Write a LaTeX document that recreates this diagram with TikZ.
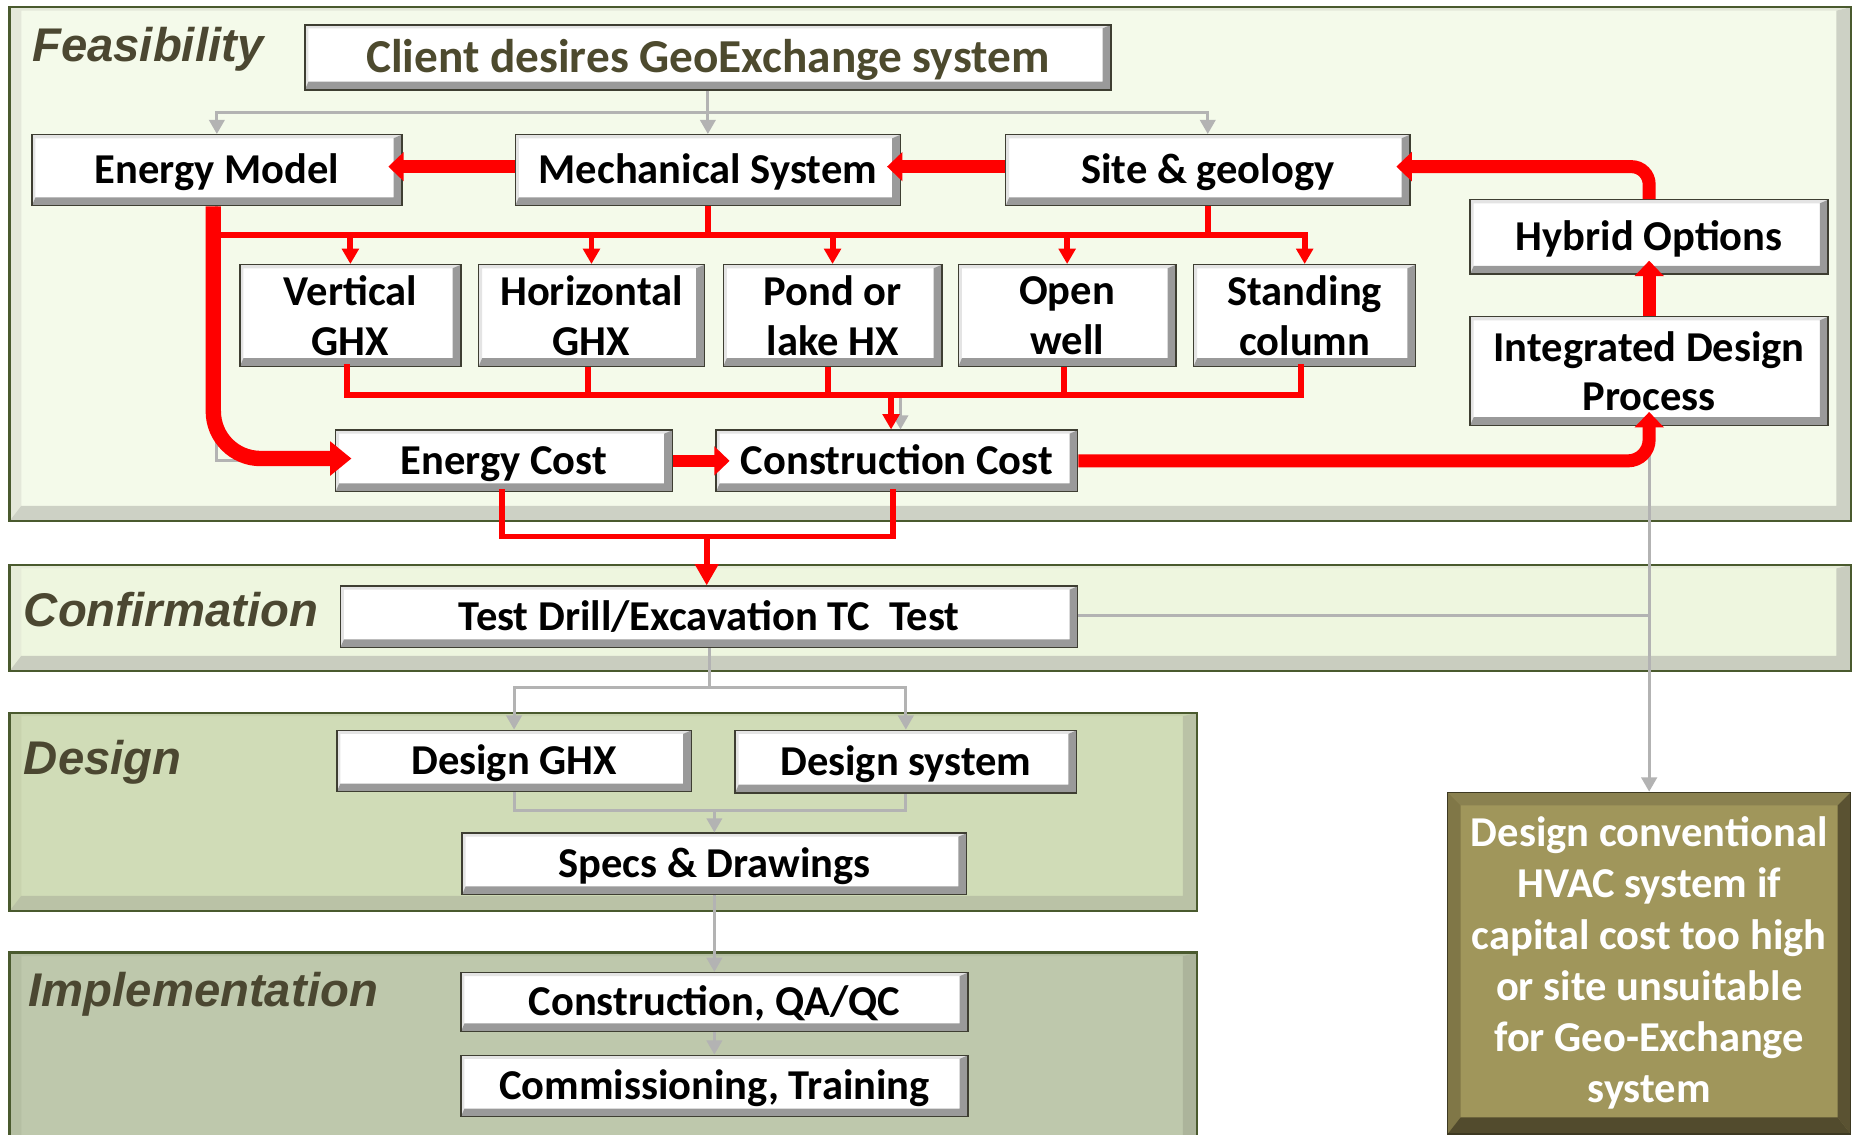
\documentclass[tikz,border=0pt]{standalone}
\usepackage{fontspec}
\setmainfont{Carlito}
\newfontfamily\phasefont{Liberation Sans}
\usetikzlibrary{arrows.meta}

\definecolor{connector}{HTML}{B3B3B3}
\definecolor{boxedge}{HTML}{3E3E32}
\definecolor{boxshade}{HTML}{9A9A9A}
\definecolor{boxlight}{HTML}{E4E4E4}
\definecolor{olivetext}{HTML}{4D4A2E}
\definecolor{phasetext}{HTML}{4B4731}
\definecolor{panelline}{HTML}{4A5A2E}
\definecolor{feasfill}{HTML}{F4FAEA}
\definecolor{feaslight}{HTML}{E4E8DA}
\definecolor{feasdark}{HTML}{CDD1C5}
\definecolor{conffill}{HTML}{EEF6DF}
\definecolor{conflight}{HTML}{E6ECD8}
\definecolor{confdark}{HTML}{C9CDBF}
\definecolor{desfill}{HTML}{D0DCB7}
\definecolor{deslight}{HTML}{C8D3AE}
\definecolor{desdark}{HTML}{BAC2A6}
\definecolor{implfill}{HTML}{BEC8AC}
\definecolor{impllight}{HTML}{B5BFA3}
\definecolor{impldark}{HTML}{ACB49B}
\definecolor{hvacfill}{HTML}{A0965B}
\definecolor{hvacedge}{HTML}{3D3922}
\definecolor{hvacleft}{HTML}{807747}
\definecolor{hvactop}{HTML}{8A8150}
\definecolor{hvacright}{HTML}{5A5232}
\definecolor{hvacbottom}{HTML}{524B2D}

\pgfdeclarelayer{background}
\pgfsetlayers{background,main}

\newcommand\boxtext{\bfseries\fontsize{36}{42}\selectfont}

% bevelled phase panel: x1,y1,x2,y2,fill,light bevel,dark bevel
\newcommand\phasepanel[7]{%
  \fill[#5] (#1,#2) rectangle (#3,#4);
  \fill[#6] (#1,#4) -- (#1,#2) -- (#3,#2) -- (#3-12,#2+3) -- (#1+10,#2+3) -- (#1+10,#4-13) -- cycle;
  \fill[#7] (#1,#4) -- (#3,#4) -- (#3,#2) -- (#3-12,#2+3) -- (#3-12,#4-13) -- (#1+10,#4-13) -- cycle;
  \draw[panelline, line width=1.8pt] (#1,#2) rectangle (#3,#4);
}

\tikzset{
  stagebox/.style={draw=boxedge, line width=1.2pt, fill=white, inner sep=0pt,
    align=center, text=black, font=\boxtext,
    path picture={
      \fill[boxlight] (path picture bounding box.south west)
        -- (path picture bounding box.north west)
        -- (path picture bounding box.north east)
        -- ([shift={(-7pt,-3pt)}]path picture bounding box.north east)
        -- ([shift={(3pt,-3pt)}]path picture bounding box.north west)
        -- ([shift={(3pt,7pt)}]path picture bounding box.south west) -- cycle;
      \fill[boxshade] (path picture bounding box.south west)
        -- (path picture bounding box.south east)
        -- (path picture bounding box.north east)
        -- ([shift={(-7pt,-3pt)}]path picture bounding box.north east)
        -- ([shift={(-7pt,7pt)}]path picture bounding box.south east)
        -- ([shift={(3pt,7pt)}]path picture bounding box.south west) -- cycle;
    }},
  oneline/.style={stagebox, text height=26pt, text depth=3pt},
  hvacbox/.style={draw=hvacedge, line width=1.2pt, fill=hvacfill, inner sep=0pt,
    align=center, text=white, font=\bfseries\fontsize{36}{43.4}\selectfont,
    path picture={
      \fill[hvacleft] (path picture bounding box.south west)
        -- (path picture bounding box.north west)
        -- ([shift={(11pt,-11pt)}]path picture bounding box.north west)
        -- ([shift={(11pt,14pt)}]path picture bounding box.south west) -- cycle;
      \fill[hvactop] (path picture bounding box.north west)
        -- (path picture bounding box.north east)
        -- ([shift={(-11pt,-11pt)}]path picture bounding box.north east)
        -- ([shift={(11pt,-11pt)}]path picture bounding box.north west) -- cycle;
      \fill[hvacright] (path picture bounding box.north east)
        -- (path picture bounding box.south east)
        -- ([shift={(-11pt,14pt)}]path picture bounding box.south east)
        -- ([shift={(-11pt,-11pt)}]path picture bounding box.north east) -- cycle;
      \fill[hvacbottom] (path picture bounding box.south west)
        -- (path picture bounding box.south east)
        -- ([shift={(-11pt,14pt)}]path picture bounding box.south east)
        -- ([shift={(11pt,14pt)}]path picture bounding box.south west) -- cycle;
    }},
  phaselabel/.style={anchor=base west, inner sep=0pt, text=phasetext,
    font=\phasefont\bfseries\itshape\fontsize{40}{40}\selectfont},
  greyline/.style={draw=connector, line width=2.5pt},
  greyarrow/.style={greyline, -{Triangle[width=13pt,length=12pt]}},
  redline/.style={draw=red, line width=5pt},
  redarrow/.style={redline, -{Triangle[width=14pt,length=13pt]}},
  redbig/.style={redline, -{Triangle[width=19pt,length=18pt]}},
  redthick/.style={draw=red, line width=11pt, -{Triangle[width=24pt,length=13pt]}, shorten >=-12pt},
  redthickest/.style={draw=red, line width=13pt, -{Triangle[width=28pt,length=18pt]}, shorten >=-14pt},
}

\begin{document}
\begin{tikzpicture}[x=1pt,y=-1pt]
\useasboundingbox (0,0) rectangle (1568,960);

% ---------- phase panels ----------
\begin{pgfonlayer}{background}
  \fill[white] (0,0) rectangle (1568,960);
  \phasepanel{8}{6}{1566}{441}{feasfill}{feaslight}{feasdark}
  \phasepanel{8}{478}{1566}{568}{conffill}{conflight}{confdark}
  \phasepanel{8}{603}{1013}{771}{desfill}{deslight}{desdark}
  \phasepanel{8}{806}{1013}{980}{implfill}{impllight}{impldark}
\end{pgfonlayer}

\node[phaselabel] (lfeas) at (27,52) {Feasibility};
\node[phaselabel] (lconf) at (20,530) {Confirmation};
\node[phaselabel] (ldes) at (20,655) {Design};
\node[phaselabel] (limpl) at (24,852) {Implementation};

% ---------- steps ----------
\node[oneline, minimum width=682pt, minimum height=55pt, text=olivetext,
      font=\bfseries\fontsize{40}{44}\selectfont, text height=28.8pt, text depth=3pt]
      (client) at (599,48.5) {Client desires GeoExchange system};
\node[oneline, minimum width=313pt, minimum height=60pt] (emodel) at (183.5,144) {Energy Model};
\node[oneline, minimum width=326pt, minimum height=60pt] (mech) at (599,144) {Mechanical System};
\node[oneline, minimum width=342pt, minimum height=60pt] (site) at (1022,144) {Site \& geology};
\node[oneline, minimum width=303pt, minimum height=63pt] (hybrid) at (1395.5,200.5) {Hybrid Options};
\node[stagebox, minimum width=303pt, minimum height=92pt] (idp) at (1395.5,314) {Integrated Design\\Process};

\node[stagebox, minimum width=187pt, minimum height=86pt] (vert) at (296.5,267) {Vertical\\GHX};
\node[stagebox, minimum width=191pt, minimum height=86pt] (horiz) at (500.5,267) {Horizontal\\GHX};
\node[stagebox, minimum width=185pt, minimum height=86pt] (pond) at (704.5,267) {Pond or\\lake HX};
\node[stagebox, minimum width=184pt, minimum height=86pt] (openw) at (903,267) {Open\\well};
\node[stagebox, minimum width=188pt, minimum height=86pt] (stand) at (1104,267) {Standing\\column};

\node[oneline, minimum width=285pt, minimum height=52pt] (ecost) at (426.5,390) {Energy Cost};
\node[oneline, minimum width=306pt, minimum height=52pt] (ccost) at (759,390) {Construction Cost};

\node[oneline, minimum width=624pt, minimum height=52pt] (test) at (600,522) {Test Drill/Excavation TC\ \ Test};

\node[oneline, minimum width=300pt, minimum height=52pt] (dghx) at (435,644) {Design GHX};
\node[oneline, minimum width=289pt, minimum height=53pt] (dsys) at (766.5,644.5) {Design system};
\node[oneline, minimum width=427pt, minimum height=52pt] (specs) at (604.5,731) {Specs \& Drawings};
\node[oneline, minimum width=429pt, minimum height=50pt] (constr) at (604.5,848) {Construction, QA/QC};
\node[oneline, minimum width=429pt, minimum height=52pt] (comm) at (604.5,919) {Commissioning, Training};

\node[hvacbox, minimum width=341pt, minimum height=289pt] (hvac) at (1395.5,815)
  {Design conventional\\HVAC system if\\capital cost too high\\or site unsuitable\\for Geo-Exchange\\system};

% ---------- grey flow ----------
\coordinate (cfork) at (599,95);
\draw[greyline] (client.south) -- (cfork);
\draw[greyarrow] (cfork) -| (emodel.north);
\draw[greyarrow] (cfork) -- (mech.north);
\draw[greyarrow] (cfork) -| (site.north);
\draw[greyline] (emodel.south) |- (ecost.west);
\draw[greyarrow] ([xshift=3pt]ccost.north |- 0,337) -- ([xshift=3pt]ccost.north);
\draw[greyline] ([yshift=1.5pt]test.east) -- ([yshift=1.5pt]test.east -| idp.south);
\draw[greyarrow] (idp.south) -- (hvac.north);

\coordinate (tfork) at (600,582);
\draw[greyline] (test.south) -- (tfork);
\draw[greyarrow] (tfork) -| (dghx.north);
\draw[greyarrow] (tfork) -| (dsys.north);
\coordinate (dmerge) at (604.5,686);
\draw[greyline] (dghx.south) |- (dmerge) -| (dsys.south);
\draw[greyarrow] (dmerge) -- (specs.north);
\draw[greyarrow] (specs.south) -- (constr.north);
\draw[greyarrow] (constr.south) -- (comm.north);

% ---------- red flow ----------
\coordinate (busA) at (180,199);
\draw[redline] (mech.south) -- (mech.south |- busA);
\draw[redline] (site.south) -- (site.south |- busA);
\draw[redline, line cap=rect] (busA) -- (stand.north |- busA);
\foreach \n in {vert,horiz,pond,openw,stand}
  \draw[redarrow] (\n.north |- busA) -- (\n.north);

\coordinate (busB) at (0,334.5);
\draw[redline, line cap=rect] ([xshift=-3pt]vert.south) -- ([xshift=-3pt]vert.south |- busB)
  -- ([xshift=-3pt]stand.south |- busB) -- ([xshift=-3pt]stand.south);
\draw[redline] ([xshift=-3pt]horiz.south) -- ([xshift=-3pt]horiz.south |- busB);
\draw[redline] ([xshift=-4pt]pond.south) -- ([xshift=-4pt]pond.south |- busB);
\draw[redline] ([xshift=-2.5pt]openw.south) -- ([xshift=-2.5pt]openw.south |- busB);
\draw[redarrow] ([xshift=-5pt]ccost.north |- busB) -- ([xshift=-5pt]ccost.north);

\coordinate (busC) at (0,454);
\draw[redline, line cap=rect] ([xshift=-1.5pt]ecost.south) -- ([xshift=-1.5pt]ecost.south |- busC)
  -- ([xshift=-3pt]ccost.south |- busC) -- ([xshift=-3pt]ccost.south);
\draw[redbig] ([xshift=-2pt]test.north |- busC) -- ([xshift=-2pt]test.north);

\draw[redthick] ([yshift=3pt]mech.west) -- ([yshift=3pt]emodel.east);
\draw[redthick] ([yshift=3pt]site.west) -- ([yshift=3pt]mech.east);
\draw[redthick, rounded corners=15pt] (hybrid.north) |- ([yshift=3pt]site.east);
\draw[redthick] (idp.north) -- (hybrid.south);
\draw[redthick, rounded corners=18pt] (ccost.east) -| (idp.south);
\draw[redthick, line width=10pt] (ecost.east) -- (ccost.west);
\draw[redthickest, rounded corners=40pt] ([xshift=-3pt]emodel.south) |- ([yshift=2pt]ecost.west);
\end{tikzpicture}
\end{document}
